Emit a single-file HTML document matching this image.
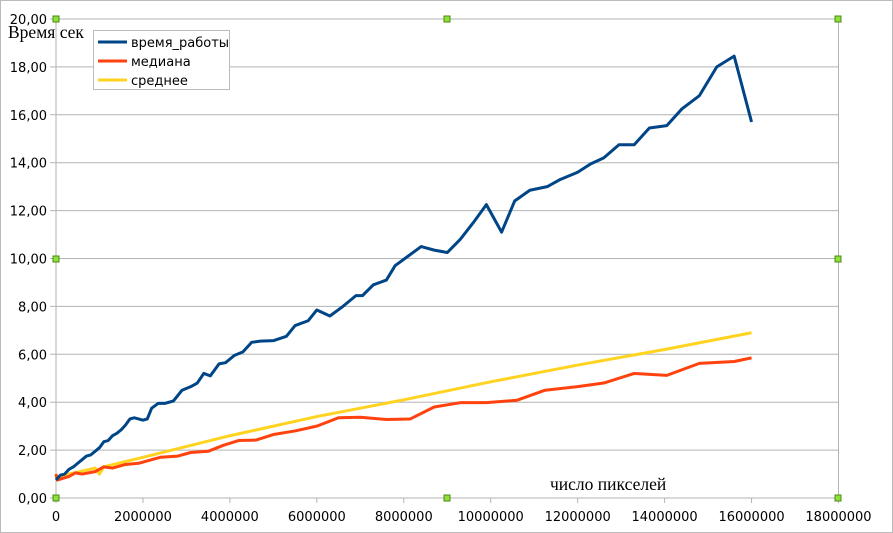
<!DOCTYPE html>
<html><head><meta charset="utf-8"><style>
body{margin:0;background:#fff;}
svg{display:block;font-family:"DejaVu Sans","Liberation Sans",sans-serif;}
</style></head><body>
<svg id="chart" width="893" height="533">
<rect x="0.5" y="0.5" width="892" height="532" fill="#fff" stroke="#bbb"/>
<g id="grid"></g><g id="axes"></g><g id="series"></g><g id="handles"></g>
<text x="8" y="38" font-family="'Liberation Serif','DejaVu Serif',serif" font-size="17.5">Время сек</text>
<text x="550" y="490" font-family="'Liberation Serif','DejaVu Serif',serif" font-size="17.5">число пикселей</text>
<g>
<rect x="93.5" y="30.5" width="136" height="59" fill="#fff" stroke="#bbb"/>
<g><line x1="98" y1="42" x2="127" y2="42" stroke="#004586" stroke-width="3"/><text x="131" y="47" font-size="13">время_работы</text></g>
<g><line x1="98" y1="61" x2="127" y2="61" stroke="#ff420e" stroke-width="3"/><text x="131" y="66" font-size="13">медиана</text></g>
<g><line x1="98" y1="80" x2="127" y2="80" stroke="#ffd320" stroke-width="3"/><text x="131" y="85" font-size="13">среднее</text></g>
</g>
</svg>
<script>
const timeX=[0,0.1,0.2,0.3,0.4,0.5,0.6,0.7,0.8,0.9,1.0,1.1,1.2,1.3,1.4,1.5,1.6,1.7,1.8,1.9,2.0,2.1,2.2,2.35,2.5,2.7,2.9,3.1,3.25,3.4,3.55,3.75,3.9,4.1,4.3,4.5,4.7,5.0,5.3,5.5,5.8,6.0,6.3,6.6,6.9,7.05,7.3,7.6,7.8,8.1,8.4,8.7,9.0,9.3,9.6,9.9,10.25,10.55,10.9,11.3,11.6,12.0,12.3,12.6,12.95,13.3,13.65,14.05,14.4,14.8,15.2,15.6,16.0];
const timeY=[0.75,0.95,1.0,1.2,1.3,1.45,1.6,1.75,1.8,1.95,2.1,2.35,2.4,2.6,2.7,2.85,3.05,3.3,3.35,3.3,3.25,3.3,3.75,3.95,3.95,4.05,4.5,4.65,4.8,5.2,5.1,5.6,5.65,5.95,6.1,6.5,6.55,6.57,6.75,7.2,7.4,7.85,7.6,8.0,8.45,8.45,8.9,9.1,9.7,10.1,10.5,10.35,10.25,10.8,11.5,12.25,11.1,12.4,12.85,13.0,13.3,13.6,13.95,14.2,14.75,14.75,15.45,15.55,16.25,16.8,18.0,18.45,15.7];
const medX=[0,0.03,0.3,0.45,0.6,0.9,1.1,1.3,1.6,1.9,2.2,2.4,2.8,3.1,3.5,3.85,4.2,4.6,5.0,5.5,6.0,6.5,7.0,7.6,8.15,8.7,9.3,9.9,10.6,11.25,12.0,12.6,13.3,14.05,14.8,15.6,16.0];
const medY=[1.0,0.75,0.9,1.05,1.0,1.1,1.3,1.25,1.4,1.45,1.6,1.7,1.75,1.9,1.95,2.2,2.4,2.42,2.65,2.8,3.0,3.35,3.37,3.28,3.3,3.8,3.98,3.98,4.08,4.5,4.65,4.8,5.2,5.12,5.62,5.7,5.85];
const meanX=[0,0.02,0.3,0.9,1.0,1.1,2,4,6,8,10,12,14,16];
const meanY=[1.0,0.8,1.0,1.25,1.0,1.3,1.7,2.6,3.4,4.1,4.85,5.55,6.2,6.9];
const yTicks=["0,00","2,00","4,00","6,00","8,00","10,00","12,00","14,00","16,00","18,00","20,00"];
const xTicks=["0","2000000","4000000","6000000","8000000","10000000","12000000","14000000","16000000","18000000"];
const NS="http://www.w3.org/2000/svg";
const X=v=>56+v*(782.5/18), Y=v=>498-v*(479/20);
function mk(t,a,p){const e=document.createElementNS(NS,t);for(const k in a)e.setAttribute(k,a[k]);p.appendChild(e);return e;}
const grid=document.getElementById('grid'),axes=document.getElementById('axes'),ser=document.getElementById('series'),h=document.getElementById('handles');
yTicks.forEach((l,i)=>{const y=Y(i*2);
const g=mk('line',{x1:50,x2:838.5,y1:y,y2:y,stroke:'#b3b3b3'},grid);


const t=mk('text',{x:47,y:y+5,'text-anchor':'end','font-size':13},axes);t.textContent=l;

});
xTicks.forEach((l,i)=>{const x=X(i*2);
const tk=mk('line',{x1:x,x2:x,y1:498,y2:503,stroke:'#b3b3b3'},grid);


const t=mk('text',{x:x,y:521,'text-anchor':'middle','font-size':13},axes);t.textContent=l;

});
[56,838.5].forEach(x=>{const v=mk('line',{x1:x,x2:x,y1:Y(20),y2:503,stroke:'#b3b3b3'},grid);

});
function line(xs,ys,c,n){const p=mk('polyline',{points:xs.map((x,i)=>X(x)+','+Y(ys[i])).join(' '),fill:'none',stroke:c,'stroke-width':3,'stroke-linejoin':'round'},ser);

}
line(meanX,meanY,'#ffd320','series-mean');
line(medX,medY,'#ff420e','series-median');
line(timeX,timeY,'#004586','series-time');
[[56,19],[447,19],[838,19],[56,259],[838,259],[56,498],[447,498],[838,498]].forEach(([x,y])=>{
const r=mk('rect',{x:x-3,y:y-3,width:6,height:6,fill:'#8fe03a',stroke:'#4a8a10','stroke-width':1},h);

});
</script>
</body></html>
